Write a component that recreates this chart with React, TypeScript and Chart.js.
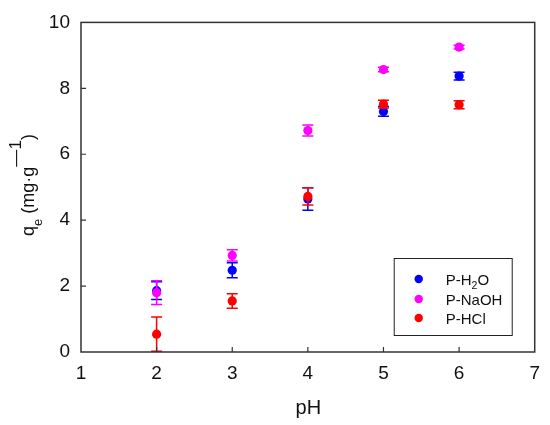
import React, { useEffect, useRef } from "react";
import { Chart, registerables } from "chart.js";

Chart.register(...registerables);

// ---- data ----
const pHValues = [2, 3, 4, 5, 6];
const h2oValues = [1.86, 2.48, 4.64, 7.3, 8.37];
const h2oErrors = [0.27, 0.23, 0.34, 0.15, 0.12];
const naohValues = [1.8, 2.93, 6.72, 8.57, 9.25];
const naohErrors = [0.36, 0.17, 0.17, 0.07, 0.06];
const hclValues = [0.54, 1.55, 4.72, 7.52, 7.5];
const hclErrors = [0.52, 0.22, 0.26, 0.12, 0.12];
const xTickValues = [1, 2, 3, 4, 5, 6, 7];
const yTickValues = [0, 2, 4, 6, 8, 10];
const seriesNames = ["P-H2O", "P-NaOH", "P-HCl"];
const seriesColors = ["#0000ff", "#ff00ff", "#ff0000"];
const xTitle = "pH";

const FONT = '"Liberation Sans", Arial, Helvetica, sans-serif';

type Seg = { t: string; scale?: number; dy?: number };

function segWidth(ctx: CanvasRenderingContext2D, segs: Seg[], size: number) {
  let w = 0;
  for (const s of segs) {
    ctx.font = `${size * (s.scale ?? 1)}px ${FONT}`;
    w += ctx.measureText(s.t).width;
  }
  return w;
}

function drawSegs(ctx: CanvasRenderingContext2D, segs: Seg[], x: number, y: number, size: number) {
  let cx = x;
  ctx.textAlign = "left";
  ctx.textBaseline = "alphabetic";
  for (const s of segs) {
    ctx.font = `${size * (s.scale ?? 1)}px ${FONT}`;
    ctx.fillText(s.t, cx, y + (s.dy ?? 0));
    cx += ctx.measureText(s.t).width;
  }
}

function legendSegs(name: string): Seg[] {
  // render digits in chemical formulas as subscripts
  const out: Seg[] = [];
  const re = /(\d+)|(\D+)/g;
  let m: RegExpExecArray | null;
  while ((m = re.exec(name))) {
    if (m[1]) out.push({ t: m[1], scale: 0.7, dy: 4 });
    else out.push({ t: m[2] });
  }
  return out;
}

const errorSets = [h2oErrors, naohErrors, hclErrors];

const errorBarPlugin = {
  id: "errorBars",
  beforeDatasetDraw(chart: any, args: any) {
    const idx = args.index;
    const ds = chart.data.datasets[idx];
    const errs = errorSets[idx];
    const xs = chart.scales.x;
    const ys = chart.scales.y;
    const ctx: CanvasRenderingContext2D = chart.ctx;
    ctx.save();
    ctx.strokeStyle = ds.borderColor;
    ctx.lineWidth = 1.5;
    ds.data.forEach((p: any, i: number) => {
      const px = xs.getPixelForValue(p.x);
      const lo = Math.max(p.y - errs[i], ys.min);
      const top = ys.getPixelForValue(p.y + errs[i]);
      const bot = ys.getPixelForValue(lo);
      const hw = 5.5;
      ctx.beginPath();
      ctx.moveTo(px, top);
      ctx.lineTo(px, bot);
      ctx.moveTo(px - hw, top);
      ctx.lineTo(px + hw, top);
      if (p.y - errs[i] > ys.min) {
        ctx.moveTo(px - hw, bot);
        ctx.lineTo(px + hw, bot);
      }
      ctx.stroke();
    });
    ctx.restore();
  },
};

const framePlugin = {
  id: "frameAndText",
  afterDraw(chart: any) {
    const ctx: CanvasRenderingContext2D = chart.ctx;
    const a = chart.chartArea;
    const xs = chart.scales.x;
    const ys = chart.scales.y;
    ctx.save();
    // frame
    ctx.strokeStyle = "#333333";
    ctx.lineWidth = 1.5;
    ctx.strokeRect(a.left, a.top, a.right - a.left, a.bottom - a.top);
    // inward ticks
    ctx.lineWidth = 1.2;
    ctx.beginPath();
    xTickValues.slice(1, -1).forEach((v) => {
      const px = xs.getPixelForValue(v);
      ctx.moveTo(px, a.bottom);
      ctx.lineTo(px, a.bottom - 5);
    });
    yTickValues.slice(1, -1).forEach((v) => {
      const py = ys.getPixelForValue(v);
      ctx.moveTo(a.left, py);
      ctx.lineTo(a.left + 5, py);
    });
    ctx.stroke();

    // x title
    ctx.fillStyle = "#111111";
    ctx.font = `20px ${FONT}`;
    ctx.textAlign = "center";
    ctx.textBaseline = "alphabetic";
    ctx.fillText(xTitle, (a.left + a.right) / 2 + 0.5, 414);

    // y title: q_e (mg·g^-1)
    const ySegs: Seg[] = [
      { t: "q" },
      { t: "e", scale: 0.72, dy: 8 },
      { t: " (mg·g" },
      { t: "—1", scale: 0.95, dy: -13 },
      { t: ")" },
    ];
    const ySize = 18;
    const w = segWidth(ctx, ySegs, ySize);
    ctx.save();
    ctx.translate(34, 185);
    ctx.rotate(-Math.PI / 2);
    drawSegs(ctx, ySegs, -w / 2, 0, ySize);
    ctx.restore();

    // legend
    const bx = a.right - 141;
    const by = a.bottom - 94;
    const bw = 118;
    const bh = 77;
    ctx.strokeStyle = "#222222";
    ctx.lineWidth = 1;
    ctx.strokeRect(bx + 0.5, by + 0.5, bw, bh);
    const rows = [279, 299, 318].map((r) => r - 352 + a.bottom);
    chart.data.datasets.forEach((ds: any, i: number) => {
      const cy = rows[i];
      ctx.fillStyle = ds.backgroundColor;
      ctx.beginPath();
      ctx.arc(bx + 25, cy, 4.2, 0, Math.PI * 2);
      ctx.fill();
      ctx.fillStyle = "#111111";
      drawSegs(ctx, legendSegs(seriesNames[i]), bx + 52, cy + 5.5, 15);
    });
    ctx.restore();
  },
};

export default function App() {
  const ref = useRef<HTMLCanvasElement | null>(null);
  useEffect(() => {
    if (!ref.current) return;
    const mk = (vals: number[]) => pHValues.map((x, i) => ({ x, y: vals[i] }));
    const allVals = [h2oValues, naohValues, hclValues];
    const orders = [2, 1, 0];
    const chart = new Chart(ref.current, {
      type: "scatter",
      data: {
        datasets: allVals.map((vals, i) => ({
          label: seriesNames[i],
          data: mk(vals),
          backgroundColor: seriesColors[i],
          borderColor: seriesColors[i],
          pointRadius: 4.6,
          pointBorderWidth: 0,
          pointHoverRadius: 4.6,
          order: orders[i],
        })),
      },
      options: {
        animation: false,
        responsive: true,
        maintainAspectRatio: false,
        devicePixelRatio: 1,
        layout: { padding: { left: 0, top: 18, right: 12, bottom: 0 } },
        plugins: { legend: { display: false }, tooltip: { enabled: false } },
        scales: {
          x: {
            type: "linear",
            min: 1,
            max: 7,
            afterFit: (s: any) => {
              s.height = 73;
            },
            afterBuildTicks: (s: any) => {
              s.ticks = xTickValues.map((v) => ({ value: v }));
            },
            grid: { display: false, drawTicks: false },
            border: { display: false },
            ticks: {
              padding: 10,
              color: "#111111",
              font: { family: FONT, size: 19 },
              maxRotation: 0,
            },
          },
          y: {
            type: "linear",
            min: 0,
            max: 10,
            afterFit: (s: any) => {
              s.width = 81;
            },
            afterBuildTicks: (s: any) => {
              s.ticks = yTickValues.map((v) => ({ value: v }));
            },
            grid: { display: false, drawTicks: false },
            border: { display: false },
            ticks: {
              padding: 11,
              color: "#111111",
              font: { family: FONT, size: 19 },
            },
          },
        },
      },
      plugins: [errorBarPlugin, framePlugin],
    });
    return () => chart.destroy();
  }, []);
  return (
    <div style={{ position: "fixed", left: 0, top: 0, width: 550, height: 425, background: "#fff" }}>
      <canvas ref={ref} />
    </div>
  );
}
